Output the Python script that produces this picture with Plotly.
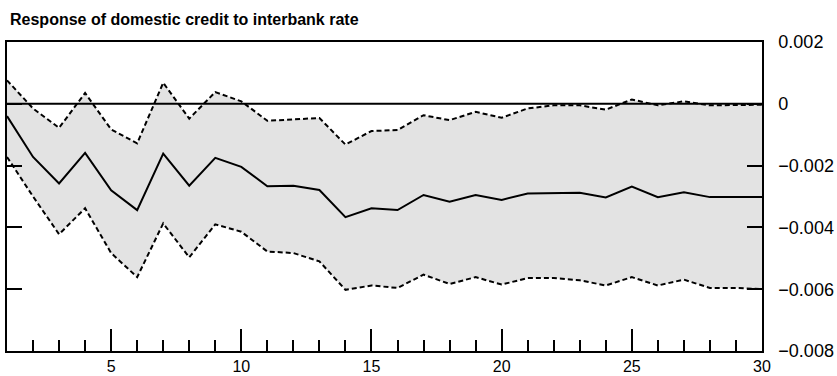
import plotly.graph_objects as go

periods = list(range(1, 31))

central = [-0.00040, -0.00172, -0.00258, -0.00159, -0.00280, -0.00344, -0.00161, -0.00265, -0.00175, -0.00204,
           -0.00267, -0.00265, -0.00279, -0.00367, -0.00338, -0.00344, -0.00295, -0.00317, -0.00295, -0.00311,
           -0.00290, -0.00288, -0.00288, -0.00303, -0.00268, -0.00302, -0.00286, -0.00302, -0.00302, -0.00302]

upper = [0.00076, -0.00015, -0.00078, 0.00035, -0.00083, -0.00128, 0.00068, -0.00048, 0.00038, 0.00008,
         -0.00055, -0.00051, -0.00046, -0.00132, -0.00088, -0.00085, -0.00037, -0.00053, -0.00026, -0.00045,
         -0.00015, -0.00005, -0.00005, -0.00019, 0.00014, -0.00005, 0.00008, -0.00005, -0.00005, -0.00003]

lower = [-0.00172, -0.00300, -0.00422, -0.00338, -0.00483, -0.00561, -0.00387, -0.00497, -0.00390, -0.00414,
         -0.00478, -0.00483, -0.00510, -0.00602, -0.00588, -0.00596, -0.00553, -0.00583, -0.00561, -0.00585,
         -0.00564, -0.00564, -0.00571, -0.00588, -0.00561, -0.00588, -0.00569, -0.00596, -0.00596, -0.00600]

title_text = "Response of domestic credit to interbank rate"

fig = go.Figure()
fig.add_trace(go.Scatter(x=periods, y=lower, mode="lines",
                         line=dict(color="black", width=2, dash="5px,3px"),
                         showlegend=False, hoverinfo="skip"))
fig.add_trace(go.Scatter(x=periods, y=upper, mode="lines", fill="tonexty",
                         fillcolor="#e3e3e3",
                         line=dict(color="black", width=2, dash="5px,3px"),
                         showlegend=False, hoverinfo="skip"))
fig.add_trace(go.Scatter(x=periods, y=central, mode="lines",
                         line=dict(color="black", width=2),
                         showlegend=False))

fig.add_shape(type="line", xref="paper", x0=0, x1=1, yref="y", y0=0, y1=0,
              line=dict(color="black", width=2), layer="above")

fig.update_layout(
    width=837, height=376,
    margin=dict(l=7, r=75, t=42, b=25),
    paper_bgcolor="white", plot_bgcolor="white",
    font=dict(family="Liberation Sans, Arial, sans-serif", color="black"),
    annotations=[dict(text=title_text, xref="paper", yref="paper", x=0, y=1 + (42 - 20) / 309,
                      xanchor="left", yanchor="middle", showarrow=False, xshift=1,
                      font=dict(size=16, weight=800, family="Liberation Sans, Arial, sans-serif"))],
)

fig.update_xaxes(range=[1, 30], tick0=0, dtick=5, ticks="inside", ticklen=22, tickwidth=1.5,
                 tickcolor="black", showline=True, linecolor="black", linewidth=1.5, mirror=True,
                 showgrid=False, zeroline=False, layer="above traces", automargin=False,
                 tickfont=dict(size=16), ticklabelstandoff=0,
                 minor=dict(dtick=1, tick0=0, ticks="inside", ticklen=11, tickwidth=1.5,
                            tickcolor="black", showgrid=False))

fig.update_yaxes(side="right", range=[-0.008, 0.002], tick0=0, dtick=0.002, ticks="inside",
                 ticklen=15, tickwidth=1.5, tickcolor="black", showline=True, linecolor="black",
                 linewidth=1.5, mirror="ticks", showgrid=False, zeroline=False, automargin=False,
                 layer="above traces", tickfont=dict(size=18), ticklabelstandoff=11)

fig.write_html("out.html", config={"displayModeBar": False},
               post_script="document.body.style.margin='0';")
